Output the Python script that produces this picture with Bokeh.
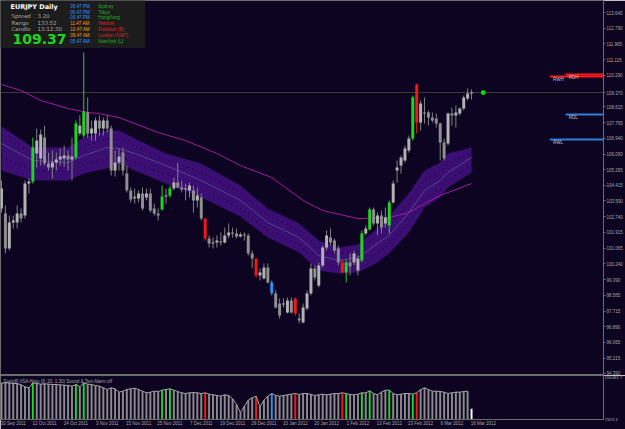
from bokeh.plotting import figure
from bokeh.models import Range1d, FixedTicker, NumeralTickFormatter, Label, BoxAnnotation, Span
from bokeh.layouts import column
from bokeh.embed import file_html
from bokeh.resources import INLINE
from bokeh.core.properties import value

# ---------------- data ----------------
symbol = "EURJPY"
timeframe = "Daily"

date_tick_idx = [0, 8, 16, 24, 32, 40, 48, 56, 64, 72, 80, 88, 96, 104, 112, 120]
date_labels = ["30 Sep 2011", "12 Oct 2011", "24 Oct 2011", "3 Nov 2011", "15 Nov 2011",
               "25 Nov 2011", "7 Dec 2011", "19 Dec 2011", "29 Dec 2011", "10 Jan 2012",
               "20 Jan 2012", "1 Feb 2012", "13 Feb 2012", "23 Feb 2012", "6 Mar 2012",
               "16 Mar 2012"]

open_ = [103.19, 102.92, 101.06, 102.44, 102.44, 102.92, 102.81, 104.52, 104.63, 106.12,
         105.85, 106.97, 105.59, 105.37, 105.64, 105.80, 105.85, 106.01, 105.80, 105.91,
         107.19, 107.08, 108.31, 107.19, 107.19, 107.88, 107.45, 107.88, 107.45, 105.21,
         105.64, 106.17, 105.05, 104.15, 103.83, 103.72, 103.99, 103.77, 103.99, 103.19,
         102.92, 103.13, 103.83, 103.88, 104.25, 104.57, 104.31, 104.20, 104.15, 104.15,
         103.62, 103.77, 102.65, 101.59, 101.32, 101.37, 101.43, 101.37, 101.75, 101.91,
         101.86, 101.70, 101.80, 101.75, 100.79, 100.52, 99.62, 99.46, 100.04, 99.24,
         98.66, 98.12, 98.07, 97.64, 98.28, 98.39, 97.32, 97.11, 97.86, 98.66,
         99.99, 99.08, 100.15, 101.11, 101.64, 101.48, 101.06, 100.31, 99.78, 100.31,
         100.31, 99.88, 100.42, 101.86, 102.07, 103.13, 102.39, 102.81, 102.39, 102.28,
         103.51, 105.21, 105.48, 105.75, 106.28, 106.92, 109.80, 107.77, 108.31, 108.31,
         108.04, 107.99, 107.72, 106.71, 106.65, 108.25, 108.15, 108.25, 108.52, 109.05,
         109.32]
high = [104.68, 103.35, 102.81, 102.81, 103.35, 103.19, 104.68, 104.79, 106.97, 107.45,
        107.40, 107.61, 106.17, 106.28, 106.17, 106.39, 106.55, 106.28, 106.97, 107.88,
        108.15, 111.51, 109.11, 107.88, 108.04, 108.15, 108.04, 108.15, 107.61, 106.28,
        106.39, 106.44, 105.48, 104.31, 104.25, 104.15, 104.31, 104.25, 104.25, 103.45,
        103.19, 104.41, 104.25, 104.41, 104.84, 105.64, 104.68, 104.52, 104.57, 104.41,
        104.31, 103.99, 102.65, 101.75, 101.64, 101.75, 101.91, 102.17, 102.39, 102.17,
        102.12, 101.91, 101.91, 101.86, 100.95, 100.52, 99.99, 100.26, 100.26, 99.35,
        98.82, 98.39, 98.39, 98.44, 98.44, 98.44, 97.59, 98.12, 98.82, 100.26,
        100.15, 100.31, 101.21, 102.02, 102.12, 101.59, 101.21, 100.42, 100.42, 100.79,
        100.95, 100.68, 102.02, 102.28, 103.24, 103.24, 102.97, 103.08, 103.24, 103.62,
        104.68, 105.75, 106.01, 106.55, 107.08, 109.21, 109.85, 108.95, 109.11, 108.41,
        108.31, 108.25, 107.77, 106.92, 108.31, 108.57, 108.68, 108.57, 109.21, 109.59,
        109.53]
low = [102.97, 100.79, 100.95, 102.12, 102.12, 102.44, 102.65, 103.99, 104.52, 105.37,
       105.48, 105.48, 105.21, 104.79, 105.21, 105.48, 105.43, 105.21, 104.68, 105.85,
       107.08, 106.97, 106.97, 106.81, 106.81, 107.08, 107.08, 107.24, 104.95, 104.89,
       105.21, 104.95, 104.04, 103.51, 103.45, 103.51, 103.08, 103.62, 102.97, 102.81,
       102.55, 103.08, 103.45, 103.77, 104.15, 104.25, 104.04, 103.62, 103.77, 102.97,
       103.24, 102.55, 101.48, 101.11, 101.06, 101.11, 101.21, 101.32, 101.59, 101.64,
       101.59, 101.64, 101.48, 100.68, 99.99, 99.51, 99.35, 99.40, 99.19, 98.55,
       97.86, 97.32, 97.91, 97.59, 97.59, 97.48, 97.06, 97.06, 97.75, 98.55,
       99.35, 98.98, 100.04, 100.95, 101.21, 100.79, 100.15, 99.72, 99.24, 99.62,
       100.15, 99.62, 100.31, 101.75, 102.02, 102.28, 101.75, 101.86, 102.17, 101.86,
       103.45, 104.57, 105.05, 105.64, 106.17, 106.81, 107.19, 107.35, 107.72, 107.61,
       107.77, 107.51, 105.75, 105.75, 106.55, 107.61, 107.51, 108.15, 108.41, 108.95,
       109.00]
close = [104.25, 101.06, 102.44, 102.55, 102.92, 102.65, 104.52, 104.63, 106.44, 106.81,
         107.13, 105.59, 105.37, 105.64, 105.80, 105.96, 106.01, 105.80, 105.96, 107.72,
         107.61, 108.36, 107.19, 107.45, 107.88, 107.45, 107.88, 107.45, 105.21, 105.64,
         105.96, 105.21, 104.15, 103.67, 103.72, 103.99, 103.19, 103.99, 103.08, 102.92,
         102.81, 103.83, 103.88, 104.25, 104.57, 104.31, 104.20, 104.25, 104.41, 103.62,
         103.88, 102.65, 101.59, 101.32, 101.37, 101.48, 101.37, 101.75, 101.91, 101.86,
         101.70, 101.80, 101.75, 100.79, 100.52, 99.62, 99.78, 100.04, 99.24, 98.66,
         97.91, 97.48, 98.12, 98.28, 97.64, 97.59, 97.22, 97.91, 98.66, 99.99,
         99.51, 100.15, 101.11, 101.75, 101.37, 100.95, 100.31, 99.78, 100.31, 100.10,
         100.79, 100.52, 101.86, 102.12, 103.13, 102.39, 102.81, 102.17, 102.71, 103.51,
         104.52, 105.37, 105.91, 106.39, 106.92, 109.11, 107.77, 108.79, 108.25, 108.04,
         107.88, 107.72, 106.71, 105.85, 108.25, 108.15, 108.31, 108.52, 109.11, 109.32,
         109.37]

# VSA signal bars (colour-coded)
vsa_green = [8, 19, 21, 41, 43, 88, 92, 94, 99, 105]
vsa_red = [52, 65, 75, 87, 106]
vsa_blue = [69]

# VSA histogram values
vsa_hist = [140055, 140055, 140055, 137653, 137653, 132848, 125641, 122037, 140055, 137653,
            135250, 136450, 135250, 134049, 134049, 132848, 131646, 130446, 128043, 134049,
            125641, 140055, 135250, 134049, 130446, 128043, 122037, 116031, 122037, 118434,
            106422, 110025, 116031, 118434, 120836, 116031, 110025, 104019, 106422, 110025,
            108824, 113629, 116031, 118434, 113629, 108824, 104019, 101617, 104019, 105220,
            104019, 101617, 104019, 99215, 96812, 94410, 92007, 96812, 94410, 82397,
            61977, 31947, 55971, 77592, 86001, 92007, 53569, 77592, 92007, 101617,
            94410, 92007, 94410, 96812, 99215, 101617, 98013, 101617, 101617, 98013,
            94410, 96812, 99215, 96812, 99215, 101617, 101617, 104019, 101617, 98013,
            96812, 99215, 104019, 104019, 111226, 101617, 96812, 106422, 113629, 113629,
            101617, 96812, 99215, 101617, 101617, 99215, 104019, 116031, 122037, 116031,
            110025, 110025, 108824, 106422, 101617, 104019, 106422, 106422, 108824, 110025,
            46361]
hist_min = 7923.3
hist_max = 166481.7

# Dragon band (EMA34 high / close / low) sampled at these bars
dragon_idx = [0, 8, 17, 21, 27, 30, 34, 42, 51, 61, 68, 76, 81, 86, 91, 96, 99, 104, 108, 112, 114, 120]
dragon_high = [107.56, 106.44, 106.44, 106.97, 107.35, 107.35, 106.92, 106.12, 105.59, 104.41, 103.19,
               102.39, 101.48, 101.11, 101.27, 102.12, 102.81, 103.99, 105.21, 105.64, 106.12, 106.44]
dragon_mid = [106.65, 105.75, 105.64, 106.01, 106.44, 106.39, 106.12, 105.48, 104.68, 103.62, 102.44,
              101.64, 100.68, 100.42, 100.57, 101.32, 101.75, 102.97, 104.15, 104.68, 105.11, 105.91]
dragon_low = [105.21, 104.68, 104.68, 105.05, 105.32, 105.59, 105.21, 104.52, 103.77, 102.76, 101.64,
              100.84, 99.88, 99.72, 99.78, 100.31, 100.79, 101.91, 103.24, 103.77, 104.31, 105.11]

# Trend EMA (magenta)
trend_idx = [0, 5, 10, 17, 22, 25, 30, 40, 47, 55, 61, 69, 77, 82, 91, 99, 104, 108, 112, 120]
trend_ema = [109.80, 109.48, 108.95, 108.52, 108.31, 108.25, 108.04, 107.24, 106.81, 106.12,
             105.48, 104.84, 103.62, 103.08, 102.65, 102.71, 102.97, 103.45, 103.88, 104.52]

# Range levels
level_names = ["RWH", "RDH", "RDL", "RWL"]
level_prices = [110.23, 110.33, 108.20, 106.87]
level_start = [140, 144, 144, 140]
level_colors = ["#ff1a1a", "#ff1a1a", "#2f7fd6", "#2f7fd6"]

price_ticks = [113.640, 112.790, 111.965, 111.115, 110.290, 109.370, 108.615, 107.765, 106.940,
               106.090, 105.265, 104.415, 103.590, 102.740, 101.915, 101.065, 100.240, 99.390,
               98.565, 97.715, 96.890, 96.065, 95.215, 94.390]

info_spread = "3.20"
info_range = "133.52"
info_candle = "13:12:30"
sessions_time = ["06:47 PM", "06:47 PM", "06:47 PM", "11:47 AM", "10:47 AM", "09:47 AM", "05:47 AM"]
sessions_city = ["Sydney", "Tokyo", "HongKong", "Helsinki", "Frankfurt (B)", "London (GMT)", "NewYork (L)"]
sessions_time_col = ["#2f8fff", "#2f8fff", "#2f8fff", "#ff9a1a", "#ff9a1a", "#ff9a1a", "#2f8fff"]
sessions_city_col = ["#22b422", "#22b422", "#22b422", "#e02020", "#e02020", "#e02020", "#22b422"]

# ---------------- layout / style ----------------
BG = "#0c0420"
FRAME = "#6c6c6c"
TXT = "#a8a8a8"
GREEN = "#1fd61f"
RED = "#f21818"
BLUE = "#3090f0"
BULL = "#b2b2b2"
BEAR = "#8e8e8e"
WICK = "#808080"

FW = 605
BAR_PX = 3.93
X0 = -1.0 / BAR_PX
MAIN_H = 375
SUB_H = 44
PX_PER_YEN = 18.753
Y_TOP = 113.64 + 12 / PX_PER_YEN
LABEL_SHIFT = 3   # date text sits to the right of its bar

x_range = Range1d(X0, X0 + FW / BAR_PX)
y_range = Range1d(Y_TOP - MAIN_H / PX_PER_YEN, Y_TOP)


def sx(px):
    return X0 + px / BAR_PX


def sy(py):
    return Y_TOP - py / PX_PER_YEN


def sv(py):
    return hist_max - (py - MAIN_H) * (hist_max - hist_min) / SUB_H


N = len(close)
idx = list(range(N))


def bar_colour(i, neutral):
    if i in vsa_green:
        return GREEN
    if i in vsa_red:
        return RED
    if i in vsa_blue:
        return BLUE
    return neutral


body_col = [bar_colour(i, BULL if close[i] >= open_[i] else BEAR) for i in idx]
wick_col = [bar_colour(i, WICK) for i in idx]
min_body = 1.0 / PX_PER_YEN
b_top, b_bot = [], []
for o, c in zip(open_, close):
    lo, hi = min(o, c), max(o, c)
    if hi - lo < min_body:
        hi = lo + min_body
    b_top.append(hi)
    b_bot.append(lo)

# ---------------- main price panel ----------------
p = figure(width=625, height=MAIN_H, x_range=x_range, y_range=y_range,
           output_backend="svg", toolbar_location=None,
           x_axis_location=None, y_axis_location="right",
           min_border_left=0, min_border_right=20, min_border_top=0, min_border_bottom=0,
           background_fill_color=BG, border_fill_color=BG, outline_line_color=FRAME)
p.grid.visible = False

ax = p.yaxis[0]
ax.ticker = FixedTicker(ticks=price_ticks)
ax.formatter = NumeralTickFormatter(format="0.000")
ax.major_label_text_font_size = "4.5px"
ax.major_label_text_font = "Liberation Sans"
ax.major_label_text_color = TXT
ax.major_label_standoff = 1
ax.major_tick_out = 2
ax.major_tick_in = 0
ax.major_tick_line_color = FRAME
ax.minor_tick_line_color = None
ax.axis_line_color = FRAME

# bid line
p.add_layout(Span(location=close[-1], dimension="width", line_color="#3e3e30",
                  line_width=1, level="underlay"))

# dragon band
p.varea(x=dragon_idx, y1=dragon_low, y2=dragon_high, fill_color="#3a0e72", fill_alpha=1.0)
q_up = [(h + m) / 2 for h, m in zip(dragon_high, dragon_mid)]
q_dn = [(l + m) / 2 for l, m in zip(dragon_low, dragon_mid)]
p.line(dragon_idx, q_up, line_color="#0e0320", line_width=1, line_dash="1 4")
p.line(dragon_idx, q_dn, line_color="#0e0320", line_width=1, line_dash="1 4")
p.line(dragon_idx, dragon_mid, line_color="#54468a", line_width=1)

# trend EMA
p.line(trend_idx, trend_ema, line_color="#a01ca0", line_width=1)

# candles
p.segment(x0=idx, y0=low, x1=idx, y1=high, line_color=wick_col, line_width=1)
p.vbar(x=idx, width=0.76, top=b_top, bottom=b_bot, fill_color=body_col, line_color=None)

# range levels
p.segment(x0=level_start, y0=level_prices, x1=[x_range.end] * 4, y1=level_prices,
          line_color=level_colors, line_width=2)
p.text(x=[s + 0.8 for s in level_start], y=[lp - 3.2 / PX_PER_YEN for lp in level_prices],
       text=level_names, text_font=value("Liberation Sans"), text_font_size="4.5px",
       text_color="#c8c8c8", text_baseline="middle", text_align="left")

# last price marker
p.scatter(x=[N - 1 + 3], y=[close[-1]], size=4, color="#00e400")

# current price tag on the axis
p.add_layout(Label(x=sx(607.5), y=close[-1], text="109.370", text_font="Liberation Sans",
                   text_font_size="4.5px", text_color="#000000", text_baseline="middle",
                   background_fill_color="#c4c4c4", level="overlay"))

# info box
p.add_layout(BoxAnnotation(left=x_range.start, right=sx(145), top=Y_TOP, bottom=sy(47),
                           fill_color="#1c1c1c", fill_alpha=1.0, line_color="#2e2e2e"))


def lab(px, py, text, color, size, font="DejaVu Sans", style="normal"):
    p.add_layout(Label(x=sx(px), y=sy(py), text=text, text_color=color, text_font=font,
                       text_font_size=size, text_font_style=style,
                       text_baseline="middle", text_align="left"))


lab(10, 6, symbol + "  " + timeframe, "#ffffff", "6.5px", style="bold")
lab(11, 15, "Spread", TXT, "5.5px")
lab(37, 15, info_spread, TXT, "5.5px")
lab(11, 22, "Range", TXT, "5.5px")
lab(37, 22, info_range, TXT, "5.5px")
lab(11, 28.5, "Candle", TXT, "5.5px")
lab(37, 28.5, info_candle, TXT, "5.5px")
lab(12, 38.5, "%.2f" % close[-1], GREEN, "14px", style="bold")
for k in range(len(sessions_time)):
    yy = 5.7 + k * 5.85
    lab(70, yy, sessions_time[k], sessions_time_col[k], "4.6px", font="Liberation Sans")
    lab(98, yy, sessions_city[k], sessions_city_col[k], "4.6px", font="Liberation Sans")

# ---------------- VSA histogram panel ----------------
q = figure(width=625, height=SUB_H + 10, x_range=x_range, y_range=Range1d(hist_min, hist_max),
           output_backend="svg", toolbar_location=None, y_axis_location="right",
           min_border_left=0, min_border_right=20, min_border_top=0, min_border_bottom=10,
           background_fill_color=BG, border_fill_color=BG, outline_line_color=FRAME)
q.grid.visible = False

hist_col = [bar_colour(i, "#8a8a8a") for i in idx]
hist_col[-1] = "#ffffff"
q.vbar(x=idx, width=0.5, top=vsa_hist, bottom=hist_min, fill_color=hist_col, line_color=None)
q.line(idx[:-1], vsa_hist[:-1], line_color="#a6a6a6", line_width=1)

qa = q.yaxis[0]
qa.ticker = FixedTicker(ticks=[hist_min, hist_max])
qa.formatter = NumeralTickFormatter(format="0.0")
qa.major_label_text_font_size = "4.3px"
qa.major_label_text_font = "Liberation Sans"
qa.major_label_text_color = TXT
qa.major_label_standoff = 1
qa.major_tick_out = 0
qa.major_tick_in = 0
qa.minor_tick_line_color = None
qa.axis_line_color = FRAME

date_label_pos = [i + LABEL_SHIFT for i in date_tick_idx]
xa = q.xaxis[0]
xa.ticker = FixedTicker(ticks=date_label_pos)
xa.major_label_overrides = {t: s for t, s in zip(date_label_pos, date_labels)}
xa.major_label_text_font_size = "4.5px"
xa.major_label_text_font = "Liberation Sans"
xa.major_label_text_color = TXT
xa.major_label_standoff = 1
xa.major_tick_out = 0
xa.major_tick_in = 0
xa.major_tick_line_color = None
xa.minor_tick_line_color = None
xa.axis_line_color = FRAME

q.add_layout(Label(x=sx(3), y=sv(380.5), text="SonicR VSA Histo (8, 20, 1.30)  Sound & Text Alarm off",
                   text_color=TXT, text_font="Liberation Sans", text_font_size="4.5px",
                   text_baseline="middle", text_align="left"))

layout = column(p, q, spacing=0)
open("out.html", "w").write(file_html(layout, INLINE))
